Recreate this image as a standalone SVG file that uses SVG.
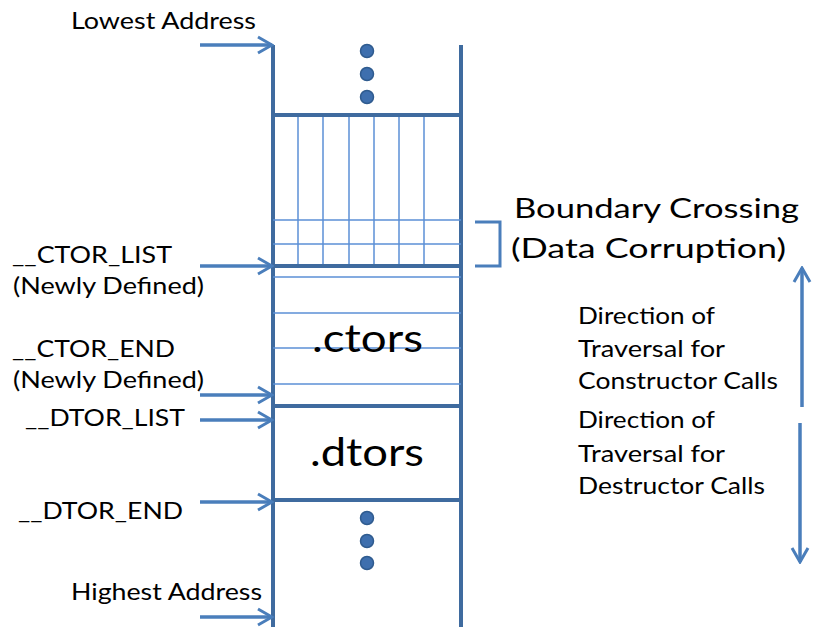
<svg xmlns="http://www.w3.org/2000/svg" width="814" height="627" viewBox="0 0 814 627">
  <defs>
    <marker id="head" viewBox="0 0 18 20" refX="16" refY="10" markerWidth="18" markerHeight="20" markerUnits="userSpaceOnUse" orient="auto">
      <path d="M2,2 L16,10 L2,18" fill="none" stroke="#4a7ebb" stroke-width="3"/>
    </marker>
    <style>
      .wall { stroke: #3f6b9f; stroke-width: 4; fill: none; }
      .grid { stroke: #5b8fd6; stroke-width: 1.5; fill: none; }
      .ptr { stroke: #4a7ebb; stroke-width: 3.5; fill: none; marker-end: url(#head); }
      .dot { fill: #3e6fae; stroke: #2f5b8f; stroke-width: 1.5; }
      .lbl { font-family: Lato, "Liberation Sans", sans-serif; font-size: 23px; fill: #000; }
      .big { font-family: Lato, "Liberation Sans", sans-serif; font-size: 27px; fill: #000; }
      .sec { font-family: Lato, "Liberation Sans", sans-serif; font-size: 38px; fill: #000; }
    </style>
  </defs>

  <rect width="814" height="627" fill="#fff"/>

  <!-- memory column -->
  <g id="column">
    <line class="wall" x1="273" y1="45" x2="273" y2="627"/>
    <line class="wall" x1="461" y1="45" x2="461" y2="627"/>
    <circle class="dot" cx="367" cy="51" r="6.5"/>
    <circle class="dot" cx="367" cy="74" r="6.5"/>
    <circle class="dot" cx="367" cy="97" r="6.5"/>
    <circle class="dot" cx="367" cy="518" r="6.5"/>
    <circle class="dot" cx="367" cy="541" r="6.5"/>
    <circle class="dot" cx="367" cy="563" r="6.5"/>
  </g>

  <!-- overflowing data block -->
  <g id="overflow-block">
    <line class="grid" x1="298" y1="115" x2="298" y2="266"/>
    <line class="grid" x1="323" y1="115" x2="323" y2="266"/>
    <line class="grid" x1="349" y1="115" x2="349" y2="266"/>
    <line class="grid" x1="374" y1="115" x2="374" y2="266"/>
    <line class="grid" x1="399" y1="115" x2="399" y2="266"/>
    <line class="grid" x1="424" y1="115" x2="424" y2="266"/>
    <line class="grid" x1="273" y1="220" x2="461" y2="220"/>
    <line class="grid" x1="273" y1="244" x2="461" y2="244"/>
    <line class="wall" x1="271" y1="115" x2="463" y2="115"/>
  </g>

  <!-- .ctors section -->
  <g id="ctors">
    <line class="grid" x1="273" y1="277" x2="461" y2="277"/>
    <line class="grid" x1="273" y1="313" x2="461" y2="313"/>
    <line class="grid" x1="273" y1="348" x2="461" y2="348"/>
    <line class="grid" x1="273" y1="384" x2="461" y2="384"/>
    <line class="wall" x1="271" y1="266" x2="463" y2="266"/>
    <text class="sec" x="312" y="352" textLength="111" lengthAdjust="spacingAndGlyphs">.ctors</text>
  </g>

  <!-- .dtors section -->
  <g id="dtors">
    <line class="wall" x1="271" y1="406" x2="463" y2="406"/>
    <line class="wall" x1="271" y1="500" x2="463" y2="500"/>
    <text class="sec" x="310" y="466" textLength="114" lengthAdjust="spacingAndGlyphs">.dtors</text>
  </g>

  <!-- symbol labels -->
  <g id="labels">
    <text class="lbl" x="71" y="29" textLength="185" lengthAdjust="spacingAndGlyphs">Lowest Address</text>
    <text class="lbl" x="12" y="263" textLength="160" lengthAdjust="spacingAndGlyphs">__CTOR_LIST</text>
    <text class="lbl" x="13" y="294" textLength="191" lengthAdjust="spacingAndGlyphs">(Newly Defined)</text>
    <text class="lbl" x="12" y="357" textLength="163" lengthAdjust="spacingAndGlyphs">__CTOR_END</text>
    <text class="lbl" x="13" y="388" textLength="191" lengthAdjust="spacingAndGlyphs">(Newly Defined)</text>
    <text class="lbl" x="25" y="426" textLength="160" lengthAdjust="spacingAndGlyphs">__DTOR_LIST</text>
    <text class="lbl" x="18" y="519" textLength="165" lengthAdjust="spacingAndGlyphs">__DTOR_END</text>
    <text class="lbl" x="71" y="600" textLength="191" lengthAdjust="spacingAndGlyphs">Highest Address</text>
  </g>

  <!-- boundary crossing note -->
  <g id="boundary-note">
    <path d="M475,222 H500 V266 H475" fill="none" stroke="#4a7ebb" stroke-width="3"/>
    <text class="big" x="514" y="218" textLength="285" lengthAdjust="spacingAndGlyphs">Boundary Crossing</text>
    <text class="big" x="511" y="258" textLength="275" lengthAdjust="spacingAndGlyphs">(Data Corruption)</text>
  </g>

  <!-- traversal notes -->
  <g id="traversal-notes">
    <text class="lbl" x="578" y="324" textLength="137" lengthAdjust="spacingAndGlyphs">Direction of</text>
    <text class="lbl" x="578" y="357" textLength="147" lengthAdjust="spacingAndGlyphs">Traversal for</text>
    <text class="lbl" x="578" y="389" textLength="200" lengthAdjust="spacingAndGlyphs">Constructor Calls</text>
    <text class="lbl" x="578" y="428" textLength="137" lengthAdjust="spacingAndGlyphs">Direction of</text>
    <text class="lbl" x="578" y="462" textLength="147" lengthAdjust="spacingAndGlyphs">Traversal for</text>
    <text class="lbl" x="578" y="494" textLength="187" lengthAdjust="spacingAndGlyphs">Destructor Calls</text>
  </g>

  <!-- pointer arrows -->
  <g id="connectors">
    <line class="ptr" x1="200" y1="45" x2="272" y2="45"/>
    <line class="ptr" x1="200" y1="266" x2="272" y2="266"/>
    <line class="ptr" x1="200" y1="395" x2="272" y2="395"/>
    <line class="ptr" x1="200" y1="420" x2="272" y2="420"/>
    <line class="ptr" x1="200" y1="502" x2="272" y2="502"/>
    <line class="ptr" x1="200" y1="617" x2="272" y2="617"/>
    <line class="ptr" x1="802" y1="407" x2="802" y2="268"/>
    <line class="ptr" x1="800" y1="423" x2="800" y2="562"/>
  </g>
</svg>
